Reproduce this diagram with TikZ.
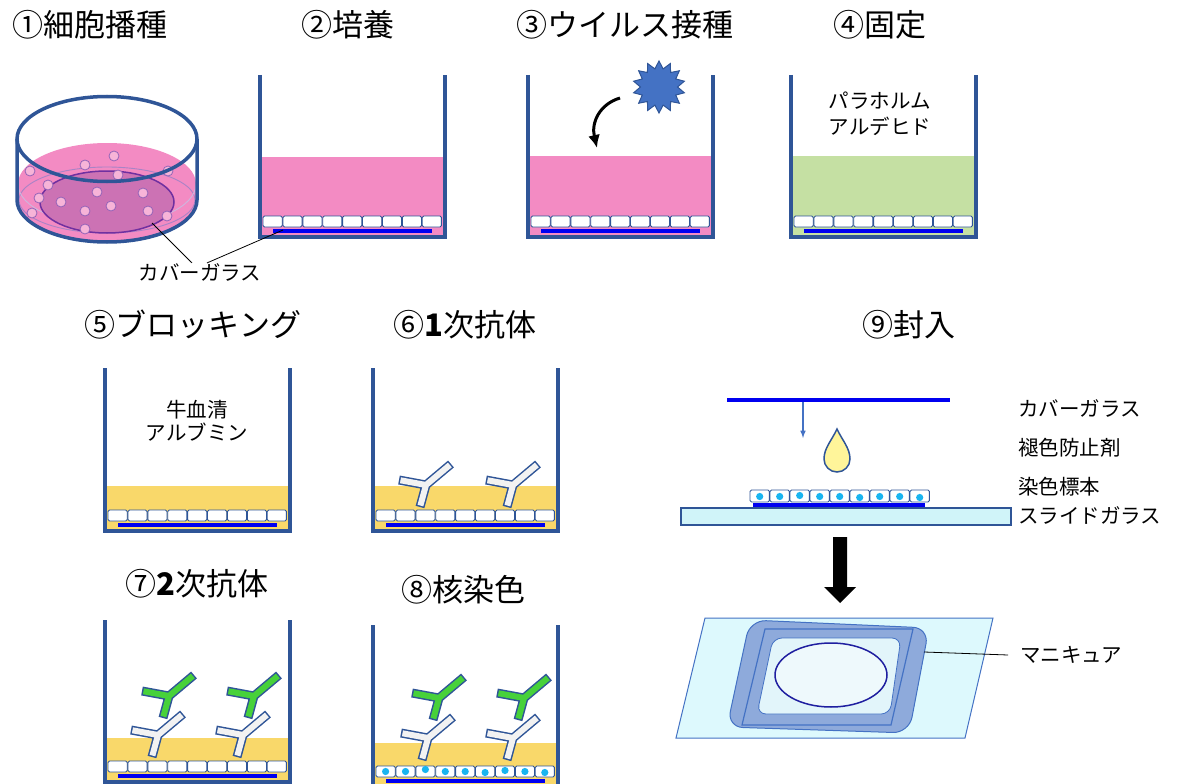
\documentclass[tikz,border=0pt]{standalone}
\usepackage{fontspec}
\setmainfont{Noto Sans CJK JP}
\usetikzlibrary{shapes.geometric,arrows.meta}

\definecolor{wallblue}{HTML}{2F5597}
\definecolor{medpink}{HTML}{F38BC3}
\definecolor{fixgreen}{HTML}{C5E0A3}
\definecolor{blockyellow}{HTML}{F9D86A}
\definecolor{glassblue}{HTML}{0000F0}
\definecolor{nucleicyan}{HTML}{19B5F0}
\definecolor{abgreen}{HTML}{47D13A}
\definecolor{abwhite}{HTML}{F2F2F2}
\definecolor{virusblue}{HTML}{4472C4}
\definecolor{slidecyan}{HTML}{D0F4F9}
\definecolor{slidelight}{HTML}{DDF9FD}
\definecolor{manicure}{HTML}{8EAADB}
\definecolor{innerglass}{HTML}{E2F5FA}
\definecolor{ovalblue}{HTML}{1F1FA0}
\definecolor{dishpurple}{HTML}{7030A0}
\definecolor{coverpink}{HTML}{CC72B4}
\definecolor{dropyellow}{HTML}{FFF59A}

\tikzset{
  wall/.style={draw=wallblue, line width=4pt},
  cellbox/.style={draw=wallblue, fill=white, line width=0.9pt, rounded corners=1.5pt},
  nuc/.style={fill=nucleicyan},
  dishcell/.style={draw=dishpurple!75, fill=medpink!65, line width=0.8pt},
  title/.style={font=\fontsize{31}{36}\selectfont, inner sep=0pt},
  txt/.style={font=\fontsize{20.5}{26}\selectfont, inner sep=0pt},
  leader/.style={draw=black, line width=0.8pt},
  pics/antibody/.style={code={
    \draw[wallblue, line width=9pt] (0,0) -- (6,-22) -- (31,-43) (6,-22) -- (-21,-27);
    \draw[#1, line width=6pt, shorten <=1.5pt, shorten >=1.5pt] (0,0) -- (6,-22) -- (31,-43);
    \draw[#1, line width=6pt, shorten >=1.5pt] (6,-22) -- (-21,-27);
  }}
}

% x, top, bottom, liquid level, liquid colour
\newcommand{\drawwell}[5]{%
  \fill[#5] (#1,#4) rectangle (#1+185,#3);
  \fill[glassblue] (#1+13,#3-8) rectangle (#1+172,#3-4);
  \foreach \i in {0,...,8}
    \draw[cellbox] ({#1+3+\i*19.9},#3-21) rectangle ++(19.2,11);
  \draw[wall] (#1,#2) -- (#1,#3) -- (#1+185,#3) -- (#1+185,#2);
}

\begin{document}
\begin{tikzpicture}[x=1pt, y=-1pt, >=latex]
\useasboundingbox (0,0) rectangle (1179,784);

% titles
\node[title] (seed)    at (90,25)  {①細胞播種};
\node[title] (culture) at (348,25) {②培養};
\node[title] (infect)  at (625,25) {③ウイルス接種};
\node[title] (fix)     at (880,25) {④固定};
\node[title] (block)   at (193,325) {⑤ブロッキング};
\node[title] (first)   at (465,325) {⑥{\bfseries 1}次抗体};
\node[title] (mount)   at (909,325) {⑨封入};
\node[title] (second)  at (197,584) {⑦{\bfseries 2}次抗体};
\node[title] (nuclear) at (463,590) {⑧核染色};

% dish
\fill[medpink] (18,184) arc[start angle=180, end angle=0, x radius=89pt, y radius=41pt]
  -- (196,200) arc[start angle=0, end angle=-180, x radius=89pt, y radius=42pt] -- cycle;
\draw[dishpurple!60, line width=0.9pt] (107,200) ellipse[x radius=88pt, y radius=33pt];
\draw[dishpurple!35, line width=0.9pt] (18,184) arc[start angle=180, end angle=360, x radius=89pt, y radius=41pt];
\draw[draw=dishpurple, fill=coverpink, line width=1.5pt] (107,202) ellipse[x radius=67pt, y radius=31pt];
\foreach \p in {(114,156),(85,165),(30,171),(168,171),(118,175),(48,185),(97,192),(143,193),
                (39,198),(61,202),(111,206),(85,211),(148,211),(32,213),(167,216),(85,229)}
  \draw[dishcell] \p circle[radius=5pt];
\draw[wall, line width=3.5pt] (107,139) ellipse[x radius=90pt, y radius=42.5pt];
\draw[wall, line width=3.5pt] (17,139) -- (17,200)
  arc[start angle=180, end angle=360, x radius=90pt, y radius=42pt] -- (197,139);

% wells
\drawwell{260}{75}{237}{157}{medpink}
\drawwell{528}{75}{237}{156}{medpink}
\drawwell{791}{75}{237}{156}{fixgreen}
\drawwell{105}{368}{531}{486}{blockyellow}
\drawwell{373}{368}{531}{486}{blockyellow}
\drawwell{105}{620}{782}{738}{blockyellow}
\drawwell{373}{625}{787}{743}{blockyellow}
\foreach \i/\dy in {0/0,1/0,2/-2,3/0,4/0,5/1,6/-1,7/0,8/1}
  \fill[nuc] ({376+\i*19.9+9.6},{771.5+\dy}) circle[radius=3.6pt];

\node[txt] (lblcg) at (200,272) {カバーガラス};
\coordinate (cgdish) at (152,223);
\coordinate (cgwell) at (283,230);
\draw[leader] (cgdish) -- ([xshift=-8pt]lblcg.north);
\draw[leader] (cgwell) -- ([xshift=7pt]lblcg.north);

% virus
\node[star, star points=14, star point ratio=1.4, minimum size=52pt, inner sep=0pt,
      fill=virusblue, draw=wallblue, line width=1pt] (virus) at (659,87) {};
\coordinate (dropS) at (620,98);
\coordinate (dropE) at (597,148);
\draw[-{Latex[length=13pt, width=12pt]}, line width=3pt] (dropS) .. controls (600,104) and (591,122) .. (dropE);

\node[txt, align=center] (pfa) at (880,114) {パラホルム\\アルデヒド};
\node[txt, align=center] (bsa) at (197,421) {牛血清\\[-3pt]アルブミン};

% antibodies
\foreach \x in {420,507} \pic at (\x,507) {antibody=abwhite};
\foreach \x in {152,237} {
  \pic at (\x,757) {antibody=abwhite};
  \pic at (\x+11,718) {antibody=abgreen};
}
\foreach \x in {422,507} {
  \pic at (\x,760) {antibody=abwhite};
  \pic at (\x+11,720) {antibody=abgreen};
}

% mounting
\draw[glassblue, line width=3.5pt] (727,400) -- (950,400);
\coordinate (cgtop) at (803,402);
\coordinate (cgdown) at (803,438);
\draw[->, virusblue, line width=1.5pt] (cgtop) -- (cgdown);
\draw[fill=dropyellow, draw=wallblue, line width=1.5pt] (837,429)
  .. controls (842,440) and (850,448) .. (850,459)
  arc[start angle=0, end angle=-180, radius=13pt]
  .. controls (824,448) and (832,440) .. (837,429) -- cycle;
\fill[glassblue] (753,503) rectangle (925,507);
\foreach \i/\dy in {0/0,1/0,2/-1,3/0,4/0,5/1,6/0,7/0,8/1} {
  \draw[cellbox] ({750+\i*20},490) rectangle ++(19.4,12);
  \fill[nuc] ({750+\i*20+9.7},{496.5+\dy}) circle[radius=3.6pt];
}
\draw[draw=wallblue, fill=slidecyan, line width=1.2pt] (681,508) rectangle (1011,525);

\node[txt, anchor=west] (lcg) at (1018,408) {カバーガラス};
\node[txt, anchor=west] (lmt) at (1018,448) {褪色防止剤};
\node[txt, anchor=west] (lsp) at (1018,487) {染色標本};
\node[txt, anchor=west] (lsl) at (1018,515) {スライドガラス};

\fill (833,537) -- (847,537) -- (847,587) -- (856,587) -- (840,603) -- (824,587) -- (833,587) -- cycle;

\draw[draw=virusblue, fill=slidelight, line width=1pt] (705,618) -- (993,618) -- (965,738) -- (676,738) -- cycle;
\draw[draw=virusblue, fill=manicure, line width=1pt, rounded corners=16pt]
  (840,624) -- (929,628) -- (909,733) -- (727,727) -- (750,620) -- cycle;
\draw[virusblue, line width=1.2pt] (765,629) -- (913,629) -- (891,725) -- (742,725) -- cycle;
\draw[draw=virusblue, fill=innerglass, line width=0.8pt, rounded corners=9pt]
  (836,638) -- (901,638) -- (890,714) -- (757,714) -- (773,638) -- cycle;
\draw[draw=ovalblue, fill=innerglass!60, line width=1.5pt] (831,675) ellipse[x radius=56pt, y radius=32pt];

\node[txt, anchor=west] (lmc) at (1020,655) {マニキュア};
\coordinate (mc) at (924,652);
\draw[leader] (mc) -- ([xshift=-12pt]lmc.west);
\end{tikzpicture}
\end{document}
